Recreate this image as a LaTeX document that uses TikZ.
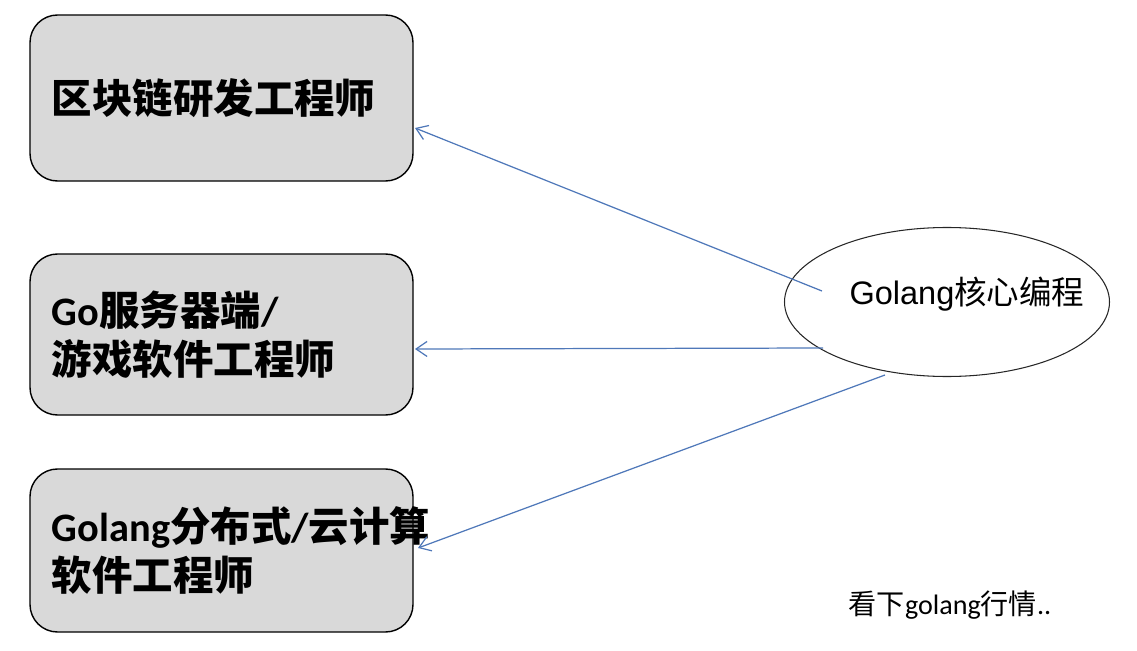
\documentclass[tikz,border=0pt]{standalone}
\usepackage{fontspec}
\setmainfont{Carlito}
\newfontfamily\cjk{Noto Sans CJK SC}
\newfontfamily\arialfont{Liberation Sans}
\usetikzlibrary{shapes.geometric,arrows.meta}
\definecolor{boxgray}{RGB}{217,217,217}
\definecolor{linkblue}{RGB}{79,120,185}

\begin{document}
\begin{tikzpicture}
			\tikzstyle{jobbox}=[draw=black,line width=0.8pt,fill=boxgray,rounded corners=0.55cm,outer sep=0pt,inner xsep=0.44cm,text width=6.78cm,align=left,font=\bfseries\fontsize{23}{27.5}\selectfont]
			\tikzstyle{link}=[draw=linkblue,line width=0.7pt,-{Straight Barb[length=0.22cm,width=0.3cm]}]
			\useasboundingbox (0,0) rectangle (22.74,-13.02);
			\node[jobbox,minimum height=3.32cm] (chain) at (4.43,-1.96) {{\cjk 区块链研发工程师}};
			\node[jobbox,minimum height=3.22cm] (server) at (4.43,-6.69) {Go{\cjk 服务器端}/\\{\cjk 游戏软件工程师}};
			\node[jobbox,minimum height=3.26cm] (cloud) at (4.43,-11.01) {Golang{\cjk 分布式}/{\cjk 云计算}\\{\cjk 软件工程师}};
			\node[draw=black!85,line width=0.6pt,ellipse,minimum width=6.5cm,minimum height=2.98cm,inner sep=0pt] (core) at (18.94,-6.04) {};
			\node[font=\fontsize{18.5}{22}\selectfont] (coretext) at (19.34,-5.88) {\arialfont Golang{\cjk 核心编程}};
			\coordinate (s1) at (16.44,-5.82);
			\coordinate (s2) at (16.46,-6.96);
			\coordinate (s3) at (17.70,-7.50);
			\draw[link] (s1) -- ([xshift=0.04cm,yshift=-0.6cm]chain.east);
			\draw[link] (s2) -- ([xshift=0.04cm,yshift=-0.29cm]server.east);
			\draw[link] (s3) -- ([xshift=0.1cm,yshift=0.05cm]cloud.east);
			\node[font=\fontsize{16}{19}\selectfont] (note) at (19.0,-12.1) {{\cjk 看下}golang{\cjk 行情}..};
		\end{tikzpicture}
\end{document}
